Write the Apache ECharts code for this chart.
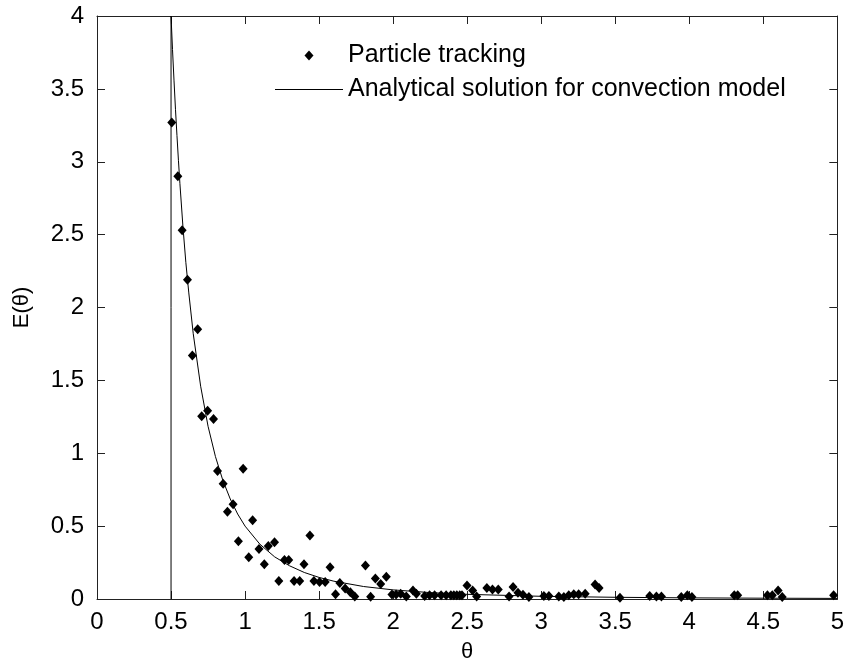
<!DOCTYPE html>
<html>
<head>
<meta charset="utf-8">
<script src="https://cdn.jsdelivr.net/npm/echarts@6/dist/echarts.min.js"></script>
<style>html,body{margin:0;padding:0;background:#fff;}#chart{width:847px;height:668px;}</style>
</head>
<body>
<div id="chart"></div>
<script>
// Particle tracking (scatter) values
const particleTheta = [0.505,0.546,0.575,0.611,0.644,0.68,0.707,0.747,0.787,0.814,0.852,0.881,0.919,0.955,0.987,1.025,1.051,1.094,1.13,1.157,1.199,1.228,1.266,1.295,1.331,1.369,1.398,1.438,1.465,1.503,1.541,1.574,1.611,1.64,1.676,1.711,1.741,1.813,1.848,1.88,1.916,1.954,1.992,2.02,2.051,2.089,2.134,2.157,2.213,2.246,2.28,2.324,2.358,2.39,2.41,2.43,2.45,2.465,2.499,2.537,2.564,2.633,2.671,2.71,2.783,2.81,2.843,2.877,2.917,3.018,3.052,3.119,3.153,3.186,3.22,3.253,3.297,3.364,3.391,3.532,3.733,3.778,3.812,3.946,3.987,4.018,4.304,4.327,4.528,4.561,4.6,4.628,4.975];
const particleE     = [3.27,2.90,2.53,2.19,1.67,1.85,1.254,1.292,1.235,0.878,0.79,0.598,0.65,0.396,0.894,0.287,0.541,0.343,0.239,0.364,0.389,0.123,0.268,0.268,0.123,0.123,0.239,0.435,0.123,0.116,0.116,0.218,0.032,0.109,0.072,0.046,0.017,0.229,0.016,0.141,0.103,0.153,0.031,0.031,0.036,0.018,0.059,0.036,0.02,0.025,0.025,0.025,0.025,0.025,0.025,0.025,0.025,0.025,0.093,0.059,0.018,0.075,0.066,0.066,0.018,0.082,0.043,0.03,0.014,0.02,0.02,0.018,0.014,0.025,0.032,0.032,0.036,0.1,0.075,0.009,0.02,0.018,0.018,0.014,0.025,0.014,0.025,0.025,0.025,0.025,0.059,0.014,0.025];

// Analytical solution curve
const curveTheta = [0.5,0.5,0.51,0.52,0.53,0.54,0.55,0.56,0.58,0.6,0.62,0.65,0.7,0.75,0.8,0.85,0.9,0.95,1.0,1.1,1.2,1.3,1.4,1.5,1.6,1.8,2.0,2.25,2.5,3.0,3.5,4.0,4.5,5.0];
const curveE     = [0,4,3.77,3.56,3.36,3.18,3.01,2.85,2.56,2.31,2.10,1.82,1.46,1.185,0.977,0.814,0.686,0.583,0.5,0.376,0.289,0.228,0.182,0.148,0.122,0.0857,0.0625,0.0439,0.032,0.0185,0.0117,0.0078,0.0055,0.004];

const xTicks = {min: 0, max: 5, interval: 0.5};
const yTicks = {min: 0, max: 4, interval: 0.5};

const seriesNames = ['Particle tracking', 'Analytical solution for convection model'];
const axisNames = {x: 'θ', y: 'E(θ)'};

const font = '"Liberation Sans", Arial, sans-serif';
const axisColor = '#222';

const scatterData = particleTheta.map((t, i) => [t, particleE[i]]);
const curveData = curveTheta.map((t, i) => [t, curveE[i]]);

function xAxisCfg(pos, main) {
  return {
    type: 'value', position: pos, min: xTicks.min, max: xTicks.max, interval: xTicks.interval,
    name: main ? axisNames.x : '', nameLocation: 'middle', nameGap: 42,
    nameTextStyle: {fontFamily: font, fontSize: 22, color: '#000'},
    axisLine: {show: true, onZero: false, lineStyle: {color: axisColor, width: 1}},
    axisTick: {show: true, inside: true, length: 8, lineStyle: {color: axisColor}},
    axisLabel: {show: main, fontFamily: font, fontSize: 24, color: '#000', margin: 11},
    splitLine: {show: false}
  };
}
function yAxisCfg(pos, main) {
  return {
    type: 'value', position: pos, min: yTicks.min, max: yTicks.max, interval: yTicks.interval,
    name: main ? axisNames.y : '', nameLocation: 'middle', nameGap: 64, nameRotate: 90,
    nameTextStyle: {fontFamily: font, fontSize: 22, color: '#000'},
    axisLine: {show: true, onZero: false, lineStyle: {color: axisColor, width: 1}},
    axisTick: {show: true, inside: true, length: 8, lineStyle: {color: axisColor}},
    axisLabel: {show: main, fontFamily: font, fontSize: 24, color: '#000', margin: 13},
    splitLine: {show: false}
  };
}

const chart = echarts.init(document.getElementById('chart'), null, {renderer: 'canvas'});
chart.setOption({
  animation: false,
  backgroundColor: '#fff',
  grid: {left: 97, top: 16, right: 7, bottom: 66, containLabel: false},
  xAxis: [xAxisCfg('bottom', true), xAxisCfg('top', false)],
  yAxis: [yAxisCfg('left', true), yAxisCfg('right', false)],
  legend: {
    orient: 'vertical', left: 270, top: 38,
    itemWidth: 68, itemHeight: 10, itemGap: 9,
    symbolKeepAspect: true,
    textStyle: {fontFamily: font, fontSize: 25, color: '#000', lineHeight: 22},
    data: [
      {name: seriesNames[0], icon: 'path://M4.5,0L9,5L4.5,10L0,5Z'},
      {name: seriesNames[1], icon: 'path://M0,0L68,0L68,1L0,1Z'}
    ]
  },
  series: [
    {
      name: seriesNames[0], type: 'scatter', xAxisIndex: 0, yAxisIndex: 0,
      symbol: 'diamond', symbolSize: [9, 10],
      itemStyle: {color: '#000', opacity: 1},
      data: scatterData
    },
    {
      name: seriesNames[1], type: 'line', xAxisIndex: 0, yAxisIndex: 0,
      symbol: 'none', showSymbol: false,
      lineStyle: {color: '#000', width: 1},
      itemStyle: {color: '#000'},
      data: curveData
    }
  ]
});
</script>
</body>
</html>
